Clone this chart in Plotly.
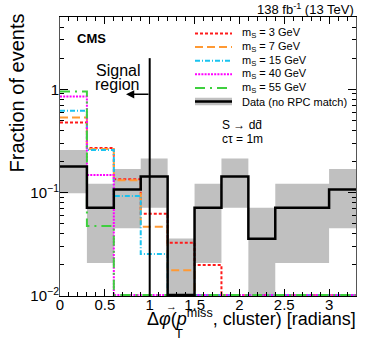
import plotly.graph_objects as go
import numpy as np

# ---------------- data ----------------
bin_edges = [0.0, 0.3, 0.6, 0.9, 1.2, 1.5, 1.8, 2.1, 2.4, 2.7, 3.0, 3.3]

sig_m3 = [0.476, 0.270, 0.1345, 0.0624, 0.0327, 0.0200, 0, 0, 0, 0, 0]
sig_m7 = [0.532, 0.265, 0.132, 0.0467, 0.0177, 0, 0, 0, 0, 0, 0]
sig_m15 = [0.618, 0.259, 0.0927, 0.0255, 0, 0, 0, 0, 0, 0, 0]
sig_m40 = [0.851, 0.148, 0, 0, 0, 0, 0, 0, 0, 0, 0]
sig_m55 = [0.952, 0.0475, 0, 0, 0, 0, 0, 0, 0, 0, 0]

data_frac = [0.1786, 0.0714, 0.1071, 0.1429, 0, 0.0714, 0.1429, 0.0357, 0.0714, 0.0714, 0.1071]
band_high = [0.2584, 0.1219, 0.1690, 0.2143, 0.0360, 0.1219, 0.2143, 0.0714, 0.1219, 0.1219, 0.1690]
band_low = [0.0987, 0.0209, 0.0453, 0.0714, 0, 0.0209, 0.0714, 0, 0.0209, 0.0209, 0.0453]

signal_labels = ["m<sub>S</sub> = 3 GeV", "m<sub>S</sub> = 7 GeV", "m<sub>S</sub> = 15 GeV",
                 "m<sub>S</sub> = 40 GeV", "m<sub>S</sub> = 55 GeV"]
data_label = "Data (no RPC match)"
signal_cut = 1.0
cut_line_top = 2.0

x_ticks = [0, 0.5, 1, 1.5, 2, 2.5, 3]
y_ticks = [0.01, 0.1, 1]
y_ticktext = ["10<sup>\u22122</sup>", "10<sup>\u22121</sup>", "1"]

# ---------------- styling ----------------
FONT = "Liberation Sans, Arial, Helvetica, sans-serif"
YMIN, YMAX = 0.01, 5.0
FLOOR = 0.0102
styles = [
    dict(color="#ff1a1a", dash="3px,2px"),
    dict(color="#ff9933", dash="8px,4px"),
    dict(color="#19c3f0", dash="5px,2px,1px,2px"),
    dict(color="#ff00ff", dash="2px,1.2px"),
    dict(color="#3ecf3e", dash="10px,5px,2px,5px"),
]

L, R, T, B = 60, 18, 17, 45
WIDTH, HEIGHT = 374, 341
PW, PH = WIDTH - L - R, HEIGHT - T - B


def px(xp):
    return (xp - L) / PW


def py(yp):
    return (HEIGHT - B - yp) / PH


def step(vals):
    v = [max(a, FLOOR) for a in vals]
    return list(bin_edges), v + [v[-1]]


fig = go.Figure()

# uncertainty band
bx, by = [], []
for i in range(len(data_frac)):
    lo = max(band_low[i], YMIN * 0.5)
    hi = band_high[i]
    x0, x1 = bin_edges[i], bin_edges[i + 1]
    bx += [x0, x1, x1, x0, x0, None]
    by += [lo, lo, hi, hi, lo, None]
fig.add_trace(go.Scatter(x=bx, y=by, mode="lines", fill="toself",
                         fillcolor="#c0c0c0", line=dict(width=0, color="#c0c0c0"),
                         hoverinfo="skip", showlegend=False))

# signal histograms
for vals, st, lab in zip([sig_m3, sig_m7, sig_m15, sig_m40, sig_m55], styles, signal_labels):
    xs, ys = step(vals)
    fig.add_trace(go.Scatter(x=xs, y=ys, mode="lines", line_shape="hv", name=lab,
                             line=dict(color=st["color"], dash=st["dash"], width=2),
                             showlegend=False))

# data histogram
xs, ys = step(data_frac)
fig.add_trace(go.Scatter(x=xs, y=ys, mode="lines", line_shape="hv", name=data_label,
                         line=dict(color="black", width=2.5), showlegend=False))

# signal region boundary
fig.add_trace(go.Scatter(x=[signal_cut, signal_cut], y=[YMIN, cut_line_top], mode="lines",
                         line=dict(color="black", width=2), showlegend=False, hoverinfo="skip"))

# ---------------- manual legend ----------------
shapes = []
annotations = []
row_y = [33.5, 47.1, 60.7, 74.3, 87.9, 101.5]
sx0, sx1, tx = 195, 232, 240
for i, (st, lab) in enumerate(zip(styles, signal_labels)):
    shapes.append(dict(type="line", xref="paper", yref="paper",
                       x0=px(sx0), x1=px(sx1), y0=py(row_y[i]), y1=py(row_y[i]),
                       line=dict(color=st["color"], dash=st["dash"], width=2)))
    annotations.append(dict(text=lab, xref="paper", yref="paper", x=px(tx), y=py(row_y[i]),
                            xanchor="left", yanchor="middle", showarrow=False,
                            font=dict(family=FONT, size=11, color="black")))
shapes.append(dict(type="rect", xref="paper", yref="paper", x0=px(sx0), x1=px(sx1),
                   y0=py(row_y[5] + 3.8), y1=py(row_y[5] - 3.8),
                   fillcolor="#c0c0c0", line=dict(width=0)))
shapes.append(dict(type="line", xref="paper", yref="paper", x0=px(sx0), x1=px(sx1),
                   y0=py(row_y[5]), y1=py(row_y[5]), line=dict(color="black", width=2.5)))
annotations.append(dict(text=data_label, xref="paper", yref="paper", x=px(tx), y=py(row_y[5]),
                        xanchor="left", yanchor="middle", showarrow=False,
                        font=dict(family=FONT, size=11, color="black")))

# other texts
annotations += [
    dict(text="138 fb<sup>-1</sup> (13 TeV)", xref="paper", yref="paper", x=px(356), y=py(8.5),
         xanchor="right", yanchor="middle", showarrow=False,
         font=dict(family=FONT, size=13, color="black")),
    dict(text="<b>CMS</b>", xref="paper", yref="paper", x=px(75), y=py(39),
         xanchor="left", yanchor="middle", showarrow=False,
         font=dict(family=FONT, size=13, color="black")),
    dict(text="Signal", xref="paper", yref="paper", x=px(118), y=py(70),
         xanchor="center", yanchor="middle", showarrow=False,
         font=dict(family=FONT, size=16, color="black")),
    dict(text="region", xref="paper", yref="paper", x=px(117), y=py(84.5),
         xanchor="center", yanchor="middle", showarrow=False,
         font=dict(family=FONT, size=16, color="black")),
    dict(text="", xref="x", yref="paper", x=0.736, y=py(94.3), axref="pixel", ayref="pixel",
         ax=24, ay=0, showarrow=True, arrowhead=2, arrowsize=1.1, arrowwidth=1.5,
         arrowcolor="black"),
    dict(text="S \u2192 dd\u0304", xref="paper", yref="paper", x=px(220), y=py(125),
         xanchor="left", yanchor="middle", showarrow=False,
         font=dict(family=FONT, size=12, color="black")),
    dict(text="c\u03c4 = 1m", xref="paper", yref="paper", x=px(220), y=py(138.5),
         xanchor="left", yanchor="middle", showarrow=False,
         font=dict(family=FONT, size=12, color="black")),
    dict(text="Fraction of events", xref="paper", yref="paper", x=px(16.5), y=py(93),
         textangle=-90, xanchor="center", yanchor="middle", showarrow=False,
         font=dict(family=FONT, size=20, color="black")),
    dict(text="\u0394<i>\u03c6</i>(<i>p</i><sup>miss</sup>, cluster) [radians]",
         xref="paper", yref="paper", x=px(358), y=py(317),
         xanchor="right", yanchor="middle", showarrow=False,
         font=dict(family=FONT, size=18, color="black")),
    dict(text="T", xref="paper", yref="paper", x=px(179), y=py(333),
         xanchor="center", yanchor="middle", showarrow=False,
         font=dict(family=FONT, size=13, color="black")),
    dict(text="\u2192", xref="paper", yref="paper", x=px(171), y=py(306),
         xanchor="center", yanchor="middle", showarrow=False,
         font=dict(family=FONT, size=11, color="black")),
]

minor_y = [m * 10.0 ** e for e in (-2, -1, 0) for m in range(2, 10) if m * 10.0 ** e < YMAX]

fig.update_layout(
    width=WIDTH, height=HEIGHT,
    margin=dict(l=L, r=R, t=T, b=B),
    paper_bgcolor="white", plot_bgcolor="white",
    font=dict(family=FONT, color="black"),
    showlegend=False,
    shapes=shapes, annotations=annotations,
    xaxis=dict(range=[0, 3.3], tickvals=x_ticks, ticktext=[f"{v:g}" for v in x_ticks],
               ticks="inside", ticklen=7, tickcolor="black", tickwidth=1,
               ticklabelstandoff=-5,
               minor=dict(ticks="inside", ticklen=4, dtick=0.1, tick0=0, tickcolor="black", showgrid=False),
               showline=True, linecolor="black", linewidth=1, mirror="allticks",
               showgrid=False, zeroline=False, tickfont=dict(size=15, family=FONT)),
    yaxis=dict(type="log", range=[np.log10(YMIN), np.log10(YMAX)],
               tickvals=y_ticks, ticktext=y_ticktext,
               ticks="inside", ticklen=8, tickcolor="black", tickwidth=1,
               ticklabelstandoff=-3,
               minor=dict(ticks="inside", ticklen=4, tickmode="array", tickvals=minor_y,
                          tickcolor="black", showgrid=False),
               showline=True, linecolor="#555555", linewidth=1, mirror="allticks",
               showgrid=False, zeroline=False, tickfont=dict(size=15, family=FONT)),
)

fig.write_html("out.html", config={"displayModeBar": False},
               post_script="document.body.style.margin='0';document.body.style.padding='0';")
